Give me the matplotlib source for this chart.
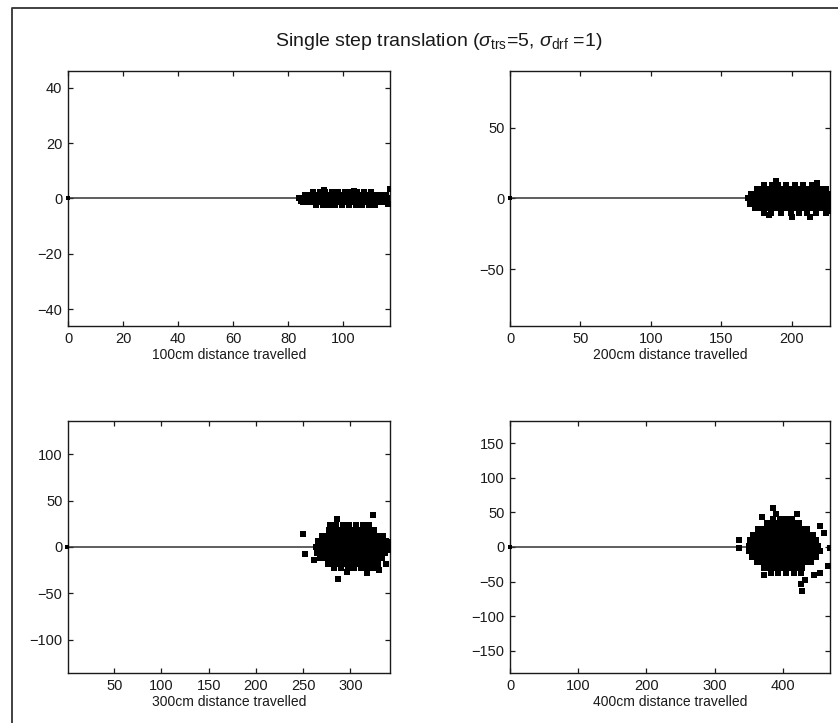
import matplotlib
matplotlib.use("Agg")
import matplotlib.pyplot as plt
from matplotlib.lines import Line2D

plt.rcParams['font.family'] = ['Liberation Sans', 'DejaVu Sans']
plt.rcParams['mathtext.fontset'] = 'custom'
plt.rcParams['mathtext.rm'] = 'Liberation Sans'
plt.rcParams['mathtext.it'] = 'Liberation Sans:italic'

# ---------------- data ----------------
title = "Single step translation ($\\sigma_{\\rm trs}$=5, $\\sigma_{\\rm drf}$ =1)"
distances = [100, 200, 300, 400]
xlabels = ["100cm distance travelled", "200cm distance travelled",
           "300cm distance travelled", "400cm distance travelled"]
xlims = [(0, 117), (0, 227), (1, 342), (0, 469)]
ylims = [(-46, 46), (-90, 90), (-136, 136), (-182, 182)]
xticks = [[0, 20, 40, 60, 80, 100], [0, 50, 100, 150, 200],
          [50, 100, 150, 200, 250, 300], [0, 100, 200, 300, 400]]
yticks = [[-40, -20, 0, 20, 40], [-50, 0, 50],
          [-100, -50, 0, 50, 100], [-150, -100, -50, 0, 50, 100, 150]]

# particle clouds, read row by row (y value, x values)
cloud100_rows_y = [0, 1.3, -1.3, 2.3, -2.4]
cloud100_rows_x = [
    [84, 86, 88, 90, 92, 94, 96, 98, 100, 102, 104, 106, 108, 110, 112, 114, 116],
    [86, 88, 90, 92, 94, 96, 98, 100, 102, 104, 106, 108, 110, 112, 114, 115.5],
    [85.5, 87.5, 89.5, 91.5, 93.5, 95.5, 97.5, 99.5, 101.5, 103.5, 105.5, 107.5, 109.5, 111.5, 113.5, 115],
    [89, 91.5, 93.5, 96, 98, 100.5, 103, 105, 107.5, 110],
    [90, 92.5, 95, 97, 99.5, 102, 104.5, 107, 109.5, 111.5],
]
cloud100_out_x = [117, 116.3, 84.5, 93, 104]
cloud100_out_y = [3.4, -2.0, -1.0, 2.9, 2.8]

cloud200_rows_y = [0, 3.5, -3.5, 7, -7, 9.5, -10]
cloud200_rows_x = [
    [169, 172.5, 176, 179.5, 183, 186.5, 190, 193.5, 197, 200.5, 204, 207.5, 211, 214.5, 218, 221.5, 225, 228],
    [171, 174.5, 178, 181.5, 185, 188.5, 192, 195.5, 199, 202.5, 206, 209.5, 213, 216.5, 220, 223.5, 227],
    [170, 173.5, 177, 180.5, 184, 187.5, 191, 194.5, 198, 201.5, 205, 208.5, 212, 215.5, 219, 222.5, 226],
    [175, 178.5, 182, 185.5, 189, 192.5, 196, 199.5, 203, 206.5, 210, 213.5, 217, 220.5, 224],
    [174, 177.5, 181, 184.5, 188, 191.5, 195, 198.5, 202, 205.5, 209, 212.5, 216, 219.5, 223, 226.5],
    [180, 186, 190, 196, 202, 208, 214],
    [180, 185, 192, 199, 205, 211, 217, 224],
]
cloud200_out_x = [189, 218, 222, 184, 213, 170, 228, 200]
cloud200_out_y = [12.5, 10.6, -6.5, -12, -13, -4, -9, -13]

cloud300_rows_y = [0, 6, -6, 12, -12, 18, -18, 24, -23]
cloud300_rows_x = [
    [264, 270, 276, 282, 288, 294, 300, 306, 312, 318, 324, 330, 336, 341],
    [266, 272, 278, 284, 290, 296, 302, 308, 314, 320, 326, 332, 338],
    [265, 271, 277, 283, 289, 295, 301, 307, 313, 319, 325, 331, 337],
    [270, 276, 282, 288, 294, 300, 306, 312, 318, 324, 330, 335],
    [268, 274, 280, 286, 292, 298, 304, 310, 316, 322, 328, 334],
    [277, 283, 289, 295, 301, 307, 313, 319, 325],
    [276, 282, 288, 294, 300, 306, 312, 318, 324, 329],
    [285, 292, 299, 306, 313, 320],
    [283, 290, 297, 304, 311, 318, 324],
]
cloud300_out_x = [250, 252, 286, 324, 287, 296, 318, 330, 338, 340, 342, 278, 262]
cloud300_out_y = [14, -8, 30, 35, -35, -27, -28, -25, -18, 5, -3, 24, -14]

cloud400_rows_y = [2, 10, -6, 18, -14, 26, -22, 34, -30, 41, -37]
cloud400_rows_x = [
    [350, 358, 366, 374, 382, 390, 398, 406, 414, 422, 430, 438, 446, 452],
    [352, 360, 368, 376, 384, 392, 400, 408, 416, 424, 432, 440, 448],
    [351, 359, 367, 375, 383, 391, 399, 407, 415, 423, 431, 439, 447, 455],
    [356, 364, 372, 380, 388, 396, 404, 412, 420, 428, 436, 444],
    [355, 363, 371, 379, 387, 395, 403, 411, 419, 427, 435, 443, 449],
    [363, 371, 379, 387, 395, 403, 411, 419, 427, 435],
    [362, 370, 378, 386, 394, 402, 410, 418, 426, 434, 441],
    [376, 384, 392, 400, 408, 416, 424],
    [372, 380, 388, 396, 404, 412, 420, 428],
    [386, 395, 404, 413],
    [383, 393, 405, 416, 426],
]
cloud400_out_x = [385, 390, 370, 428, 427, 432, 335, 335, 469, 466, 455, 445, 372, 420, 460, 455]
cloud400_out_y = [57, 48, 44, -63, -54, -47, 10, -1, -1, -28, -38, -40, -40, 47, 20, 30]

clouds = [
    (cloud100_rows_y, cloud100_rows_x, cloud100_out_x, cloud100_out_y),
    (cloud200_rows_y, cloud200_rows_x, cloud200_out_x, cloud200_out_y),
    (cloud300_rows_y, cloud300_rows_x, cloud300_out_x, cloud300_out_y),
    (cloud400_rows_y, cloud400_rows_x, cloud400_out_x, cloud400_out_y),
]

# ---------------- figure ----------------
W, H = 838, 723
fig = plt.figure(figsize=(W / 100, H / 100), dpi=100)

def rect(l, t, r, b):
    return [l / W, 1 - b / H, (r - l) / W, (b - t) / H]

positions = [rect(68, 71, 390, 326), rect(510, 71, 830, 326),
             rect(68, 421, 390, 673), rect(510, 421, 830, 673)]

ink = '#1a1a1a'
for i in range(4):
    ax = fig.add_axes(positions[i])
    rows_y, rows_x, out_x, out_y = clouds[i]
    xs, ys = [], []
    for yv, row in zip(rows_y, rows_x):
        xs.extend(row)
        ys.extend([yv] * len(row))
    xs.extend(out_x)
    ys.extend(out_y)
    ax.plot([0, distances[i]], [0, 0], color='#333333', lw=1.1, zorder=2)
    ax.plot([0], [0], marker='s', ms=3, color='black', mew=0, zorder=3, clip_on=False)
    ax.plot(xs, ys, ls='none', marker='s', ms=4, color='black', mew=0, zorder=3)
    ax.set_xlim(*xlims[i])
    ax.set_ylim(*ylims[i])
    ax.set_xticks(xticks[i])
    ax.set_yticks(yticks[i])
    ax.set_xlabel(xlabels[i], fontsize=10, labelpad=2, color=ink)
    ax.tick_params(direction='in', length=3.5, width=0.9, top=True, right=True,
                   labelsize=10.5, colors=ink, pad=4)
    for s in ax.spines.values():
        s.set_linewidth(1.0)
        s.set_color(ink)

fig.text(0.523, 1 - 42 / H, title, ha='center', va='center', fontsize=14, color=ink)

# figure frame (left and top edges visible)
fx = 12 / W
fy = 1 - 8 / H
fig.add_artist(Line2D([fx, fx, 1.05], [-0.05, fy, fy], transform=fig.transFigure,
                      color='#333333', lw=1.3, clip_on=False))

fig.savefig("out.png", dpi=100)
